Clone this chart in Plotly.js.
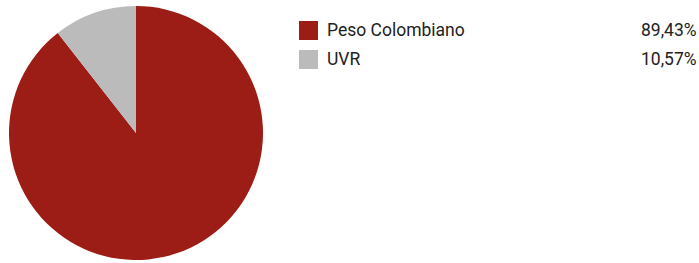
<!DOCTYPE html>
<html>
<head>
<meta charset="utf-8">
<script src="https://cdn.plot.ly/plotly-3.0.1.min.js"></script>
<style>html,body{margin:0;padding:0;background:#fff;}#chart{width:699px;height:263px;}</style>
</head>
<body>
<div id="chart"></div>
<script>
const labels = ["Peso Colombiano", "UVR"];
const values = [89.43, 10.57];
const colors = ["#9C1D16", "#BBBBBB"];

const W = 699, H = 263;
const px = x => x / W;
const py = y => (H - y) / H;

const fmt = v => v.toFixed(2).replace('.', ',') + '%';

const shapes = [], annotations = [];
labels.forEach((lab, i) => {
  const top = 21 + i * 29;
  shapes.push({type: 'rect', xref: 'paper', yref: 'paper',
    x0: px(299), x1: px(318), y0: py(top), y1: py(top + 19),
    fillcolor: colors[i], line: {width: 0}});
  annotations.push({xref: 'paper', yref: 'paper', x: px(325), y: py(top + 9),
    xanchor: 'left', yanchor: 'middle', showarrow: false, text: lab,
    font: {family: 'Roboto', size: 17.5, color: '#222'}});
  annotations.push({xref: 'paper', yref: 'paper', x: px(698.5), y: py(top + 9),
    xanchor: 'right', yanchor: 'middle', showarrow: false, text: fmt(values[i]),
    font: {family: 'Roboto', size: 17.5, color: '#222'}});
});

Plotly.newPlot('chart', [{
  type: 'pie', labels: labels, values: values,
  marker: {colors: colors, line: {width: 0}},
  sort: false, direction: 'clockwise', rotation: 0,
  textinfo: 'none', hoverinfo: 'none',
  domain: {x: [px(9), px(263)], y: [py(260), py(6)]}
}], {
  width: W, height: H, margin: {l: 0, r: 0, t: 0, b: 0},
  showlegend: false, paper_bgcolor: '#fff',
  shapes: shapes, annotations: annotations
}, {displayModeBar: false, staticPlot: true});
</script>
</body>
</html>
